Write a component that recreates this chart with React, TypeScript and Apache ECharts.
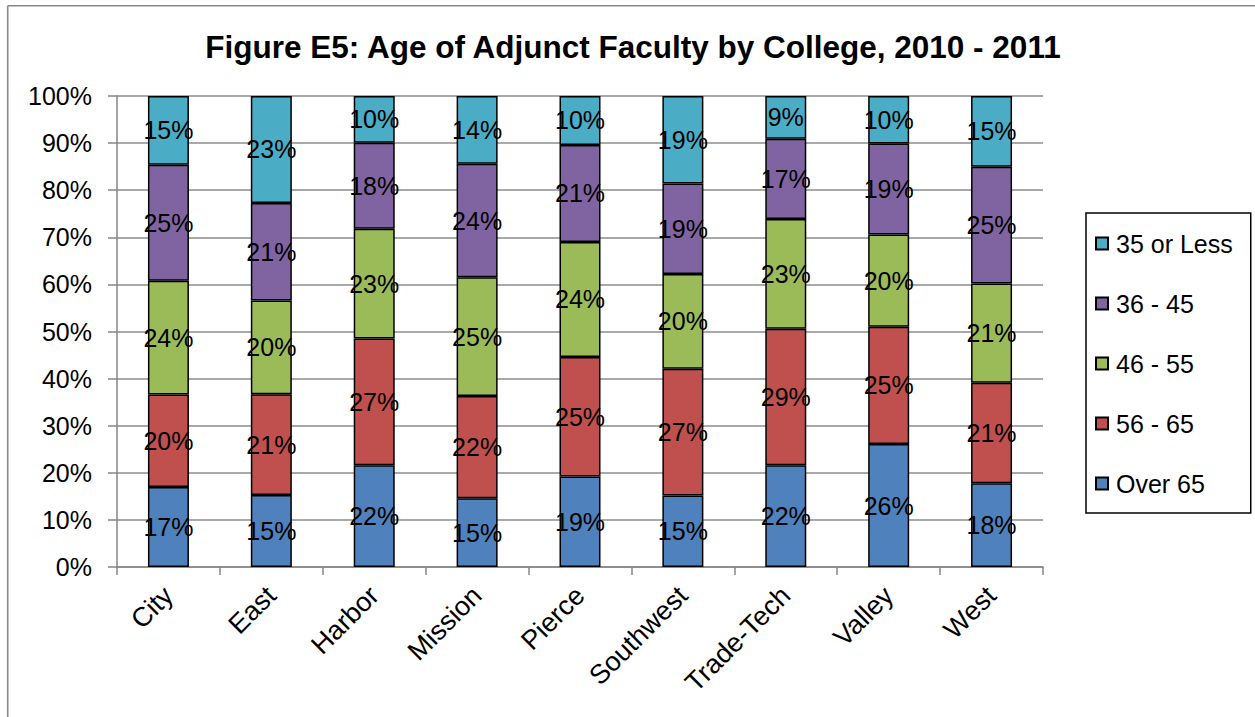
import React, { useEffect, useRef } from "react";
import * as echarts from "echarts";

const categories = ["City", "East", "Harbor", "Mission", "Pierce", "Southwest", "Trade-Tech", "Valley", "West"];
const seriesNames = ["Over 65", "56 - 65", "46 - 55", "36 - 45", "35 or Less"];
const over65 = [17.0, 15.3, 21.6, 14.6, 19.2, 15.2, 21.6, 26.1, 17.8];
const age56to65 = [19.6, 21.4, 26.9, 21.7, 25.4, 26.9, 29.0, 24.9, 21.3];
const age46to55 = [24.2, 19.9, 23.3, 25.2, 24.4, 20.1, 23.3, 19.6, 21.1];
const age36to45 = [24.6, 20.7, 18.3, 24.1, 20.6, 19.2, 17.0, 19.3, 24.8];
const age35less = [14.6, 22.7, 9.9, 14.4, 10.4, 18.6, 9.1, 10.1, 15.0];
const yTicks = [0, 10, 20, 30, 40, 50, 60, 70, 80, 90, 100];
const colors = ["#4F81BD", "#C0504D", "#9BBB59", "#8064A2", "#4BACC6"];

const FONT = "'Liberation Sans', Arial, Helvetica, sans-serif";

export default function App() {
  const ref = useRef<HTMLDivElement>(null);
  useEffect(() => {
    document.body.style.margin = "0";
    document.body.style.overflow = "hidden";
    if (!ref.current) return;
    const chart = echarts.init(ref.current, undefined, { renderer: "svg" });
    const values = [over65, age56to65, age46to55, age36to45, age35less];
    chart.setOption({
      animation: false,
      backgroundColor: "#ffffff",
      title: {
        text: "Figure E5: Age of Adjunct Faculty by College, 2010 - 2011",
        left: 628,
        top: 26,
        textAlign: "center",
        textStyle: { fontFamily: FONT, fontSize: 31.5, fontWeight: "bold", color: "#000" },
      },
      graphic: [
        { type: "line", shape: { x1: 7.7, y1: 5.7, x2: 1260, y2: 5.7 }, style: { stroke: "#8a8a8a", lineWidth: 1.6 } },
        { type: "line", shape: { x1: 7.7, y1: 5.7, x2: 7.7, y2: 720 }, style: { stroke: "#8a8a8a", lineWidth: 1.6 } },
      ],
      legend: {
        orient: "vertical",
        left: 1086,
        top: 213,
        data: [...seriesNames].reverse(),
        icon: "rect",
        itemWidth: 12,
        itemHeight: 12,
        itemGap: 35,
        padding: [18, 18, 17, 9],
        borderColor: "#000",
        borderWidth: 1.5,
        textStyle: { fontFamily: FONT, fontSize: 25, color: "#000", padding: [0, 0, 0, 3] },
      },
      grid: { left: 117, right: 212, top: 96, bottom: 150 },
      xAxis: {
        type: "category",
        data: categories,
        axisLine: { lineStyle: { color: "#868686", width: 1.5 } },
        axisTick: { show: true, length: 8, lineStyle: { color: "#868686", width: 1.5 } },
        axisLabel: { rotate: 45, fontFamily: FONT, fontSize: 27, color: "#000", margin: 24, interval: 0 },
      },
      yAxis: {
        type: "value",
        min: 0,
        max: 100,
        interval: 10,
        axisLine: { show: true, lineStyle: { color: "#868686", width: 1.5 } },
        axisTick: { show: true, length: 9, lineStyle: { color: "#868686", width: 1.5 } },
        axisLabel: {
          fontFamily: FONT,
          fontSize: 25,
          color: "#000",
          margin: 25,
          formatter: (v: number) => (yTicks.includes(v) ? v + "%" : ""),
        },
        splitLine: { show: true, lineStyle: { color: "#8c8c8c", width: 1.5 } },
      },
      series: seriesNames.map((name, i) => ({
        name,
        type: "bar",
        stack: "total",
        barWidth: 41,
        data: values[i],
        itemStyle: { color: colors[i], borderColor: "#000", borderWidth: 1.5 },
        label: {
          show: true,
          position: "inside",
          fontFamily: FONT,
          fontSize: 25,
          color: "#000",
          formatter: (p: any) => Math.round(p.value) + "%",
        },
      })),
    });
    return () => chart.dispose();
  }, []);
  return <div ref={ref} style={{ width: 1255, height: 717 }} />;
}
